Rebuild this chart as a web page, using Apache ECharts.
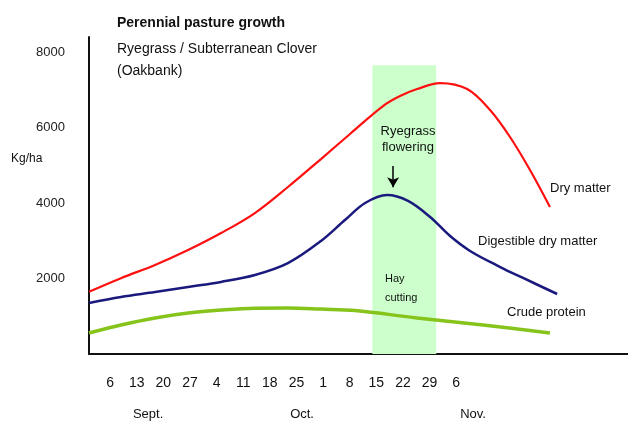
<!DOCTYPE html>
<html>
<head>
<meta charset="utf-8">
<title>Perennial pasture growth</title>
<script src="https://cdn.jsdelivr.net/npm/echarts@6/dist/echarts.min.js"></script>
<style>
  html, body { margin: 0; padding: 0; background: #fff; }
  #chart { width: 628px; height: 421px; }
</style>
</head>
<body>
<div id="chart"></div>
<script>
// x = weeks counted from 6 Sept, y = kg/ha
const weekLabels = ['6', '13', '20', '27', '4', '11', '18', '25', '1', '8', '15', '22', '29', '6'];
const monthNames = ['Sept.', 'Oct.', 'Nov.'];
const monthWeeks = [1.43, 7.21, 13.63];

const dryMatter = [
  [-0.79, 1650], [0.41, 2010], [1.69, 2360], [2.93, 2755], [4.17, 3205], [5.44, 3735],
  [6.68, 4425], [7.92, 5165], [9.01, 5830], [10.25, 6570], [10.89, 6835], [11.53, 7020],
  [12.39, 7180], [13.41, 7020], [14.27, 6465], [15.02, 5750], [15.77, 4875], [16.52, 3895],
];
const digestibleDryMatter = [
  [-0.79, 1350], [0.41, 1510], [1.69, 1640], [2.93, 1775], [4.17, 1910], [5.44, 2095],
  [6.68, 2410], [7.92, 2995], [8.82, 3550], [9.58, 4000], [10.4, 4210], [11.19, 4055],
  [12.02, 3630], [12.77, 3125], [13.52, 2730], [14.65, 2305], [15.51, 2015], [16.79, 1590],
];
const crudeProtein = [
  [-0.79, 556], [0.41, 770], [1.69, 955], [2.93, 1085], [4.17, 1165], [5.44, 1215],
  [6.68, 1220], [7.92, 1190], [9.2, 1150], [11.53, 955], [14.01, 770], [16.52, 556],
];
const hayCutting = [9.85, 12.25]; // weeks, green band
const hayBandTop = 7650;
const flowering = [10.63, 4980, 4420]; // arrow: week, from, to

const FONT = "'Liberation Sans', Arial, sans-serif";
const chart = echarts.init(document.getElementById('chart'));

function txt(x, y, text, size, opts) {
  return {
    type: 'text',
    x: x,
    y: y,
    z: 100,
    silent: true,
    style: Object.assign({
      text: text,
      font: (opts && opts.bold ? 'bold ' : '') + size + 'px ' + FONT,
      fill: '#111',
      verticalAlign: 'middle',
      align: 'left',
    }, opts && opts.align ? { align: opts.align } : {}),
  };
}

const lineBase = {
  type: 'line',
  smooth: 0.35,
  showSymbol: false,
};

chart.setOption({
  animation: false,
  grid: { left: 89, right: 0, top: 37, bottom: 67 },
  xAxis: [
    {
      type: 'value',
      min: -0.79,
      max: 19.45,
      axisLine: { show: true, onZero: false, lineStyle: { color: '#111', width: 2 } },
      axisTick: { show: false },
      splitLine: { show: false },
      axisLabel: {
        customValues: weekLabels.map((_, i) => i),
        formatter: (v) => weekLabels[Math.round(v)] || '',
        margin: 22,
        fontSize: 14,
        fontFamily: FONT,
        color: '#111',
      },
    },
    {
      type: 'value',
      position: 'bottom',
      min: -0.79,
      max: 19.45,
      axisLine: { show: false },
      axisTick: { show: false },
      splitLine: { show: false },
      axisLabel: {
        customValues: monthWeeks,
        formatter: (v) => monthNames[monthWeeks.indexOf(v)] || '',
        margin: 54,
        fontSize: 13,
        fontFamily: FONT,
        color: '#111',
      },
    },
  ],
  yAxis: {
    type: 'value',
    min: 0,
    max: 8400,
    interval: 2000,
    axisLine: { show: true, onZero: false, lineStyle: { color: '#111', width: 2 } },
    axisTick: { show: false },
    splitLine: { show: false },
    axisLabel: {
      formatter: (v) => (v > 0 && v % 2000 === 0 ? String(v) : ''),
      margin: 24,
      fontSize: 13,
      fontFamily: FONT,
      color: '#222',
    },
  },
  series: [
    Object.assign({}, lineBase, {
      name: 'Dry matter',
      data: dryMatter,
      lineStyle: { color: '#ff1010', width: 2.2 },
      markArea: {
        silent: true,
        itemStyle: { color: '#ccffcc' },
        data: [[{ xAxis: hayCutting[0], yAxis: 0 }, { xAxis: hayCutting[1], yAxis: hayBandTop }]],
      },
    }),
    Object.assign({}, lineBase, {
      name: 'Digestible dry matter',
      data: digestibleDryMatter,
      lineStyle: { color: '#1a1a7e', width: 2.5 },
      markLine: {
        silent: true,
        symbol: ['none', 'arrow'],
        symbolSize: [9, 10],
        label: { show: false },
        lineStyle: { color: '#000', width: 1.5, type: 'solid' },
        data: [[{ coord: [flowering[0], flowering[1]] }, { coord: [flowering[0], flowering[2]] }]],
      },
    }),
    Object.assign({}, lineBase, {
      name: 'Crude protein',
      data: crudeProtein,
      lineStyle: { color: '#86c41c', width: 3.5 },
    }),
  ],
  graphic: [
    txt(117, 23, 'Perennial pasture growth', 14, { bold: true }),
    txt(117, 49, 'Ryegrass / Subterranean Clover', 14),
    txt(117, 71, '(Oakbank)', 14),
    txt(11, 159, 'Kg/ha', 12),
    txt(408, 131, 'Ryegrass', 13, { align: 'center' }),
    txt(408, 147, 'flowering', 13, { align: 'center' }),
    txt(385, 279, 'Hay', 11),
    txt(385, 298, 'cutting', 11),
    txt(550, 188, 'Dry matter', 13),
    txt(478, 241, 'Digestible dry matter', 13),
    txt(507, 312, 'Crude protein', 13),
  ],
});
</script>
</body>
</html>
